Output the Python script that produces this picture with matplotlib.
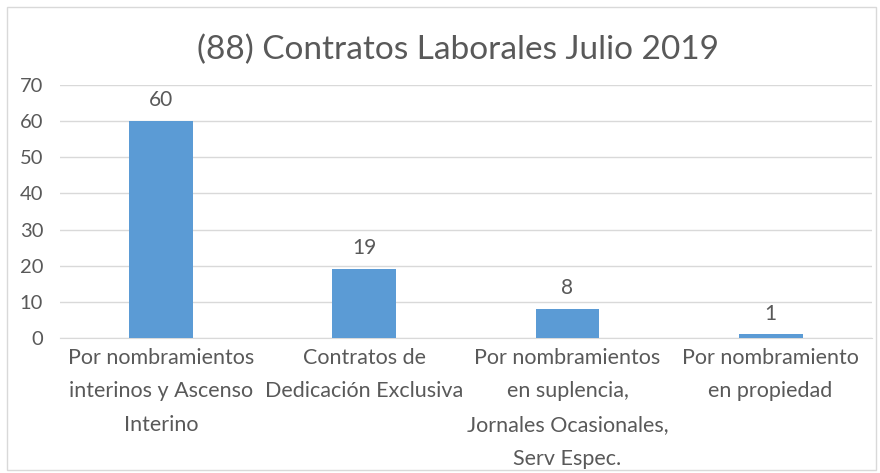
import matplotlib.pyplot as plt
from matplotlib.patches import Rectangle

categorias = ["Por nombramientos\ninterinos y Ascenso\nInterino",
              "Contratos de\nDedicación Exclusiva",
              "Por nombramientos\nen suplencia,\nJornales Ocasionales,\nServ Espec.",
              "Por nombramiento\nen propiedad"]
valores = [60, 19, 8, 1]
ticks_y = [0, 10, 20, 30, 40, 50, 60, 70]
titulo = "(88) Contratos Laborales Julio 2019"

plt.rcParams['font.family'] = ['Lato', 'DejaVu Sans']
gris = '#595959'

fig = plt.figure(figsize=(8.8, 4.73), dpi=100)
ax = fig.add_axes([0.068, 0.2854, 0.923, 0.535])

# marco del gráfico
fig.patches.append(Rectangle((7 / 880, 3 / 473), 869 / 880, 463 / 473, transform=fig.transFigure,
                             fill=False, edgecolor='#D9D9D9', linewidth=1))

x = range(len(valores))
bars = ax.bar(x, valores, width=0.315, color='#5B9BD5', zorder=3)
for i, v in enumerate(valores):
    ax.text(i, v + 3, str(v), ha='center', va='bottom', fontsize=15, color=gris)

ax.set_ylim(0, 70)
ax.set_xlim(-0.5, len(valores) - 0.5)
ax.set_yticks(ticks_y)
ax.set_xticks(list(x))
ax.set_xticklabels(categorias, fontsize=15.5, color=gris, linespacing=1.85)
ax.tick_params(axis='y', labelsize=14.5, labelcolor=gris, length=0, pad=12)
ax.tick_params(axis='x', length=0, pad=7)
ax.grid(axis='y', color='#D9D9D9', linewidth=1, zorder=0)
for s in ['top', 'right', 'left']:
    ax.spines[s].set_visible(False)
ax.spines['bottom'].set_color('#D9D9D9')

fig.text(0.52, 0.895, titulo, ha='center', va='center', fontsize=24, color=gris)

fig.savefig('out.png', dpi=100)
